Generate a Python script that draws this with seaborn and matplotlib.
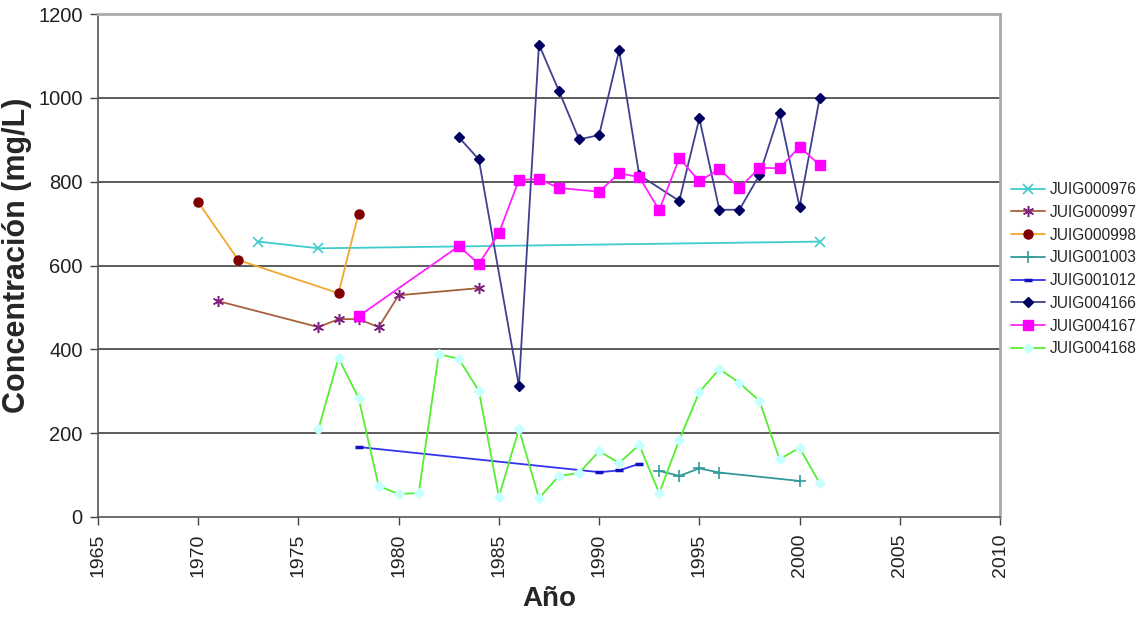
import matplotlib
matplotlib.use("Agg")
import matplotlib.pyplot as plt
import seaborn as sns
import pandas as pd

# ---- data ----
years_976 = [1973, 1976, 2001]
vals_976 = [657, 641, 657]

years_997 = [1971, 1976, 1977, 1978, 1979, 1980, 1984]
vals_997 = [515, 453, 472, 472, 453, 529, 546]

years_998 = [1970, 1972, 1977, 1978]
vals_998 = [751, 613, 534, 724]

years_1003 = [1993, 1994, 1995, 1996, 2000]
vals_1003 = [110, 98, 116, 106, 86]

years_1012 = [1978, 1990, 1991, 1992]
vals_1012 = [167, 107, 111, 127]

years_4166 = [1983, 1984, 1986, 1987, 1988, 1989, 1990, 1991, 1992, 1994,
              1995, 1996, 1997, 1998, 1999, 2000, 2001]
vals_4166 = [906, 853, 312, 1127, 1016, 901, 911, 1113, 816, 754,
             951, 733, 733, 816, 964, 740, 999]

years_4167 = [1978, 1983, 1984, 1985, 1986, 1987, 1988, 1990, 1991, 1992,
              1993, 1994, 1995, 1996, 1997, 1998, 1999, 2000, 2001]
vals_4167 = [479, 646, 604, 677, 804, 806, 785, 776, 820, 811,
             732, 856, 801, 830, 785, 833, 832, 883, 840]

years_4168 = [1976, 1977, 1978, 1979, 1980, 1981, 1982, 1983, 1984, 1985,
              1986, 1987, 1988, 1989, 1990, 1991, 1992, 1993, 1994, 1995,
              1996, 1997, 1998, 1999, 2000, 2001]
vals_4168 = [210, 379, 284, 74, 55, 57, 389, 377, 301, 48,
             210, 45, 98, 105, 157, 129, 172, 57, 184, 298,
             353, 320, 277, 138, 165, 81]

series_names = ["JUIG000976", "JUIG000997", "JUIG000998", "JUIG001003",
                "JUIG001012", "JUIG004166", "JUIG004167", "JUIG004168"]
x_ticks = [1965, 1970, 1975, 1980, 1985, 1990, 1995, 2000, 2005, 2010]
y_ticks = [0, 200, 400, 600, 800, 1000, 1200]

data = {
    "JUIG000976": (years_976, vals_976),
    "JUIG000997": (years_997, vals_997),
    "JUIG000998": (years_998, vals_998),
    "JUIG001003": (years_1003, vals_1003),
    "JUIG001012": (years_1012, vals_1012),
    "JUIG004166": (years_4166, vals_4166),
    "JUIG004167": (years_4167, vals_4167),
    "JUIG004168": (years_4168, vals_4168),
}

# styles: line color, marker, marker face, marker edge, marker size
styles = {
    "JUIG000976": dict(color="#40CCCC", marker="x", mfc="#40CCCC", mec="#40CCCC", ms=7, mew=1.2),
    "JUIG000997": dict(color="#A8603C", marker=(6, 2, 0), mfc="#802080", mec="#802080", ms=8, mew=1.1),
    "JUIG000998": dict(color="#F0A830", marker="o", mfc="#800000", mec="#800000", ms=6.5, mew=1),
    "JUIG001003": dict(color="#339999", marker="+", mfc="#339999", mec="#339999", ms=8, mew=1.2),
    "JUIG001012": dict(color="#3333EE", marker="_", mfc="#1010C0", mec="#1010C0", ms=6, mew=2.5),
    "JUIG004166": dict(color="#404090", marker="D", mfc="#000060", mec="#000060", ms=5.5, mew=1),
    "JUIG004167": dict(color="#FF22FF", marker="s", mfc="#FF00FF", mec="#FF00FF", ms=7, mew=1),
    "JUIG004168": dict(color="#55EE33", marker="D", mfc="#C8FFFF", mec="#C8FFFF", ms=5.5, mew=1),
}

sns.set_style("white")
plt.rcParams["font.family"] = ["Liberation Sans", "DejaVu Sans"]

fig = plt.figure(figsize=(11.46, 6.17), dpi=100)
ax = fig.add_axes([98 / 1146, 1 - 517 / 617, (1000 - 98) / 1146, (517 - 14) / 617])

for name in series_names:
    xs, ys = data[name]
    df = pd.DataFrame({"Año": xs, "val": ys})
    st = styles[name]
    sns.lineplot(data=df, x="Año", y="val", ax=ax, color=st["color"], lw=1.3,
                 marker=st["marker"], markerfacecolor=st["mfc"],
                 markeredgecolor=st["mec"], markersize=st["ms"],
                 markeredgewidth=st["mew"], label=name, sort=False,
                 estimator=None, zorder=3)

ax.set_xlim(1965, 2010)
ax.set_ylim(0, 1200)
ax.set_xticks(x_ticks)
ax.set_yticks(y_ticks)
ax.set_xticklabels([str(t) for t in x_ticks], rotation=90, fontsize=14, color="#222222")
ax.set_yticklabels([str(t) for t in y_ticks], fontsize=14.5, color="#222222")
ax.tick_params(axis="both", direction="out", length=6, width=1, color="#444444", pad=4)
ax.tick_params(axis="x", bottom=True, pad=6)
ax.tick_params(axis="y", left=True, pad=5)

for y in y_ticks[1:-1]:
    ax.axhline(y, color="#303030", lw=1.1, zorder=1)

ax.spines["left"].set_color("#555555")
ax.spines["bottom"].set_color("#555555")
ax.spines["left"].set_linewidth(1.2)
ax.spines["bottom"].set_linewidth(1.2)
ax.spines["top"].set_color("#AAAAAA")
ax.spines["right"].set_color("#AAAAAA")
ax.spines["top"].set_linewidth(2)
ax.spines["right"].set_linewidth(2)

ax.set_xlabel("Año", fontsize=20, fontweight="bold", labelpad=6)
ax.set_ylabel("")
fig.text(17 / 1146, 1 - 255 / 617, "Concentración (mg/L)", rotation=90,
         ha="center", va="center", fontsize=22, fontweight="bold")

handles, labels = ax.get_legend_handles_labels()
if ax.legend_:
    ax.legend_.remove()
fig.legend(handles, labels, loc="upper left", bbox_to_anchor=(1011 / 1146, 1 - 182 / 617),
           frameon=False, fontsize=11.2, handlelength=2.2, labelspacing=0.5,
           handletextpad=0.3, borderaxespad=0, borderpad=0)

fig.savefig("out.png", dpi=100, facecolor="white")
